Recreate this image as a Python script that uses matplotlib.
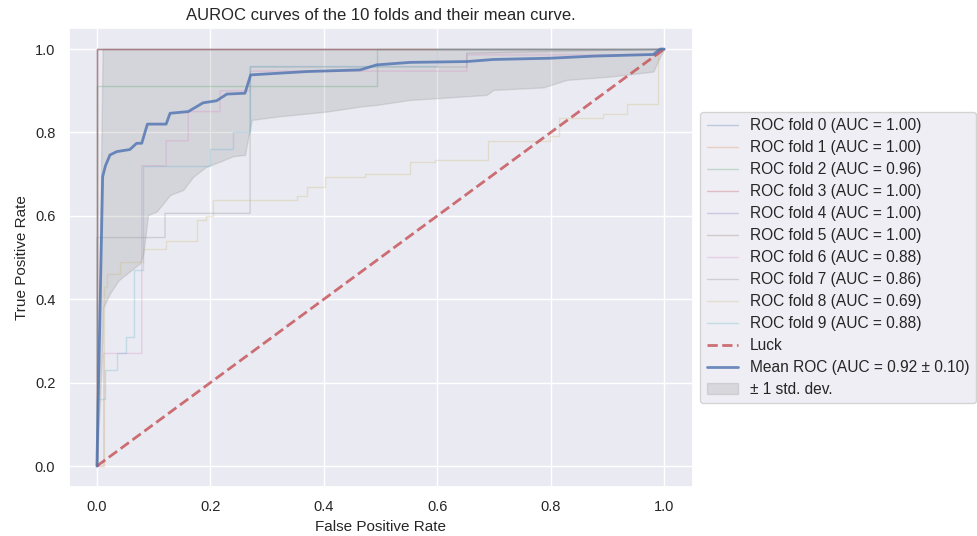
import matplotlib
matplotlib.use('Agg')
import matplotlib.pyplot as plt
import seaborn as sns

sns.set_theme(style='darkgrid', color_codes=True)
plt.rcParams['font.family'] = ['Liberation Sans', 'DejaVu Sans']

# ROC curves, one per fold
perfect_fpr = [0.0, 0.0, 1.0]
perfect_tpr = [0.0, 1.0, 1.0]

fold2_fpr = [0.0, 0.0, 0.493, 0.493, 1.0]
fold2_tpr = [0.0, 0.912, 0.912, 1.0, 1.0]

fold6_fpr = [0.0, 0.012, 0.012, 0.079, 0.079, 0.122, 0.122, 0.161, 0.161, 0.217, 0.217,
             0.27, 0.27, 0.652, 0.652, 0.99, 1.0]
fold6_tpr = [0.0, 0.0, 0.27, 0.27, 0.72, 0.72, 0.78, 0.78, 0.85, 0.85, 0.90,
             0.90, 0.947, 0.947, 0.986, 0.986, 1.0]

fold7_fpr = [0.0, 0.0, 0.12, 0.12, 0.27, 0.27, 0.652, 0.652, 1.0]
fold7_tpr = [0.0, 0.548, 0.548, 0.606, 0.606, 0.957, 0.957, 0.99, 1.0]

fold8_fpr = [0.0, 0.012, 0.012, 0.017, 0.017, 0.041, 0.041, 0.082, 0.082, 0.122, 0.122,
             0.176, 0.176, 0.193, 0.193, 0.205, 0.205, 0.352, 0.352, 0.37, 0.37,
             0.402, 0.402, 0.473, 0.473, 0.552, 0.552, 0.596, 0.596, 0.69, 0.69,
             0.799, 0.799, 0.814, 0.814, 0.893, 0.893, 0.934, 0.934, 0.99, 0.99, 1.0]
fold8_tpr = [0.0, 0.0, 0.43, 0.43, 0.46, 0.46, 0.49, 0.49, 0.52, 0.52, 0.54,
             0.54, 0.59, 0.59, 0.60, 0.60, 0.638, 0.638, 0.647, 0.647, 0.668,
             0.668, 0.692, 0.692, 0.70, 0.70, 0.73, 0.73, 0.735, 0.735, 0.78,
             0.78, 0.791, 0.791, 0.834, 0.834, 0.844, 0.844, 0.868, 0.868, 1.0, 1.0]

fold9_fpr = [0.0, 0.0, 0.014, 0.014, 0.035, 0.035, 0.052, 0.052, 0.066, 0.066, 0.081,
             0.081, 0.20, 0.20, 0.24, 0.24, 0.27, 0.27, 0.60, 0.60, 1.0]
fold9_tpr = [0.0, 0.16, 0.16, 0.23, 0.23, 0.27, 0.27, 0.31, 0.31, 0.47, 0.47,
             0.72, 0.72, 0.76, 0.76, 0.80, 0.80, 0.96, 0.96, 1.0, 1.0]

fold_curves = [
    (perfect_fpr, perfect_tpr),
    (perfect_fpr, perfect_tpr),
    (fold2_fpr, fold2_tpr),
    (perfect_fpr, perfect_tpr),
    (perfect_fpr, perfect_tpr),
    (perfect_fpr, perfect_tpr),
    (fold6_fpr, fold6_tpr),
    (fold7_fpr, fold7_tpr),
    (fold8_fpr, fold8_tpr),
    (fold9_fpr, fold9_tpr),
]
fold_auc = [1.00, 1.00, 0.96, 1.00, 1.00, 1.00, 0.88, 0.86, 0.69, 0.88]

mean_fpr = [0.0, 0.0101, 0.015, 0.023, 0.035, 0.044, 0.058, 0.07, 0.079, 0.089, 0.122,
            0.129, 0.161, 0.187, 0.211, 0.229, 0.261, 0.271, 0.37, 0.464, 0.493,
            0.552, 0.652, 0.699, 0.799, 0.875, 0.981, 0.993, 1.0]
mean_tpr = [0.0, 0.694, 0.72, 0.746, 0.754, 0.756, 0.759, 0.774, 0.774, 0.82, 0.82,
            0.846, 0.85, 0.871, 0.876, 0.892, 0.894, 0.938, 0.946, 0.950, 0.962,
            0.968, 0.970, 0.975, 0.978, 0.983, 0.987, 1.0, 1.0]
mean_auc = 0.92
std_auc = 0.10

band_fpr = [0.0, 0.0101, 0.011, 0.023, 0.038, 0.044, 0.061, 0.076, 0.082, 0.09, 0.105,
            0.129, 0.152, 0.17, 0.193, 0.217, 0.24, 0.261, 0.267, 0.273, 0.317,
            0.405, 0.464, 0.493, 0.552, 0.599, 0.687, 0.699, 0.787, 0.828, 0.905,
            0.981, 0.99, 1.0]
band_lower = [0.0, 0.30, 0.38, 0.414, 0.445, 0.452, 0.47, 0.486, 0.51, 0.602, 0.61,
              0.65, 0.662, 0.694, 0.718, 0.73, 0.743, 0.746, 0.79, 0.83, 0.838,
              0.85, 0.862, 0.866, 0.878, 0.882, 0.89, 0.902, 0.908, 0.926, 0.934,
              0.946, 0.974, 1.0]
band_upper = [0.0, 1.0, 1.0, 1.0, 1.0, 1.0, 1.0, 1.0, 1.0, 1.0, 1.0,
              1.0, 1.0, 1.0, 1.0, 1.0, 1.0, 1.0, 1.0, 1.0, 1.0,
              1.0, 1.0, 1.0, 1.0, 1.0, 1.0, 1.0, 1.0, 1.0, 1.0,
              1.0, 1.0, 1.0]

fig = plt.figure(figsize=(9.78, 5.36), dpi=100)
ax = fig.add_axes([0.0701, 0.0916, 0.638, 0.8558])

for i, (fpr, tpr) in enumerate(fold_curves):
    ax.plot(fpr, tpr, lw=1, alpha=0.3,
            label='ROC fold %d (AUC = %0.2f)' % (i, fold_auc[i]))

ax.plot([0, 1], [0, 1], linestyle='--', lw=2, color='r', label='Luck', alpha=.8)
ax.plot(mean_fpr, mean_tpr, color='b',
        label='Mean ROC (AUC = %0.2f \u00b1 %0.2f)' % (mean_auc, std_auc),
        lw=2, alpha=.8)
ax.fill_between(band_fpr, band_lower, band_upper, color='grey', alpha=.2,
                label='\u00b1 1 std. dev.')

ax.set_xlim([-0.05, 1.05])
ax.set_ylim([-0.05, 1.05])
ax.tick_params(labelsize=10.5)
ax.set_xlabel('False Positive Rate', fontsize=11)
ax.set_ylabel('True Positive Rate', fontsize=11)
ax.set_title('AUROC curves of the 10 folds and their mean curve.', fontsize=12)
ax.legend(loc='center left', bbox_to_anchor=(1.0, 0.5), fontsize=11.2,
          labelspacing=0.45)

fig.savefig('out.png', dpi=100)
